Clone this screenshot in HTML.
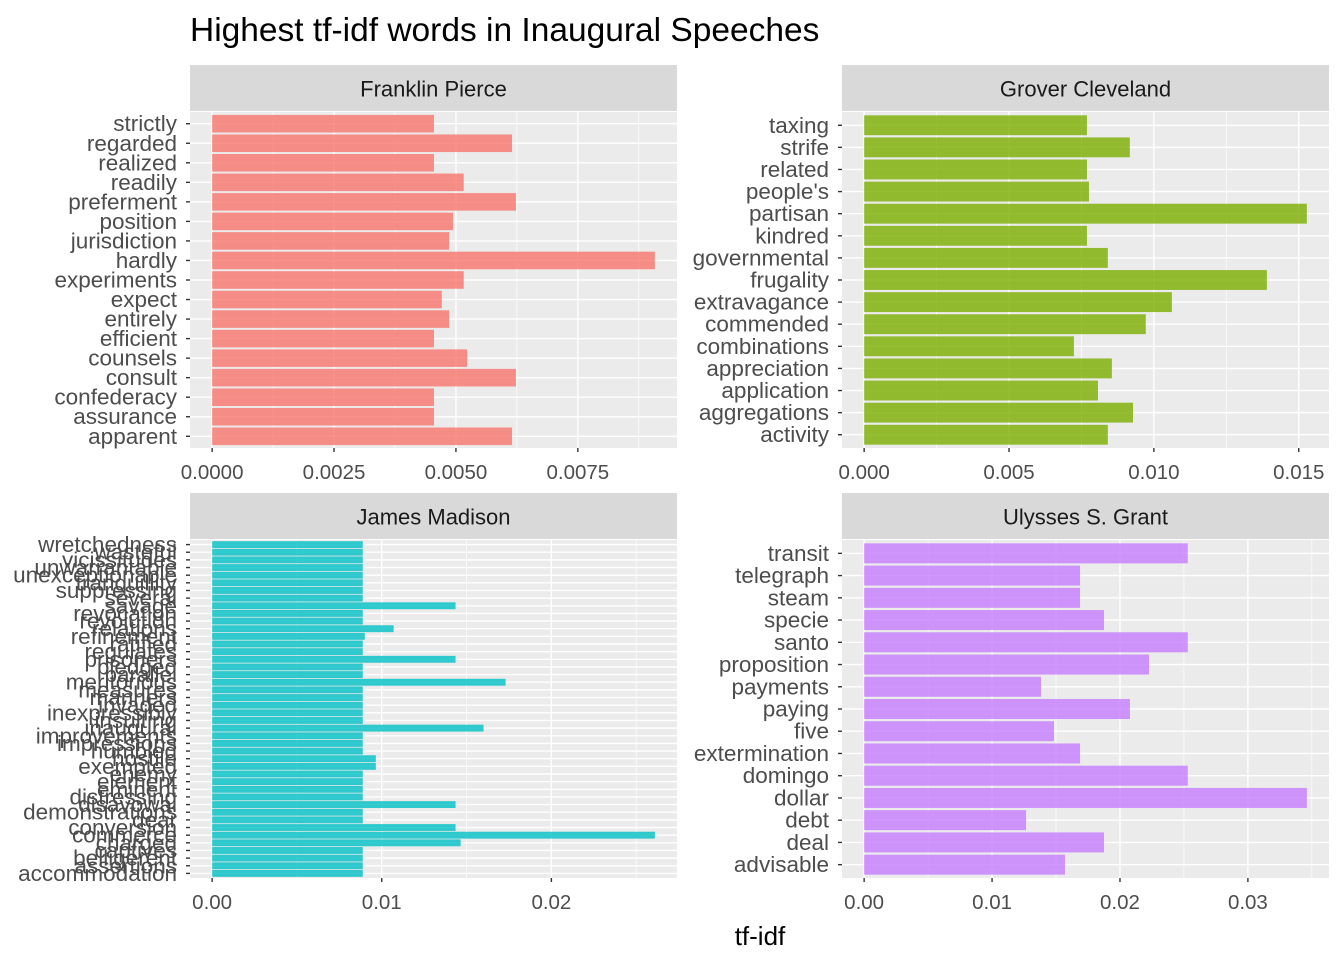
<!DOCTYPE html>
<html><head><meta charset="utf-8"><style>
html,body{margin:0;padding:0;background:#fff;}
svg text{font-family:"Liberation Sans",Arial,sans-serif;}
</style></head><body>
<svg id="chart" width="1344" height="960" viewBox="0 0 1344 960" xmlns="http://www.w3.org/2000/svg">
<rect width="1344" height="960" fill="#fff"/>
<text x="190" y="41" font-size="33.5" fill="#000">Highest tf-idf words in Inaugural Speeches</text>
<text x="760" y="945" font-size="26" fill="#000" text-anchor="middle">tf-idf</text>
<g id="panels"></g>
</svg>
<script>
const pierceWords = ["strictly","regarded","realized","readily","preferment","position","jurisdiction","hardly","experiments","expect","entirely","efficient","counsels","consult","confederacy","assurance","apparent"];
const pierceValues = [0.00455,0.00615,0.00455,0.00516,0.00623,0.00494,0.00486,0.00908,0.00516,0.00471,0.00486,0.00455,0.00523,0.00623,0.00455,0.00455,0.00615];
const pierceTicks = [0,0.0025,0.005,0.0075];
const pierceTickLabels = ["0.0000","0.0025","0.0050","0.0075"];

const clevelandWords = ["taxing","strife","related","people's","partisan","kindred","governmental","frugality","extravagance","commended","combinations","appreciation","application","aggregations","activity"];
const clevelandValues = [0.00769,0.00917,0.00769,0.00776,0.01528,0.00769,0.00841,0.0139,0.01062,0.00972,0.00724,0.00855,0.00807,0.00928,0.00841];
const clevelandTicks = [0,0.005,0.01,0.015];
const clevelandTickLabels = ["0.000","0.005","0.010","0.015"];

const madisonWords = ["wretchedness","wasteful","vicissitudes","unwarrantable","unexceptionable","tranquillity","suppressing","several","savage","revocation","revolution","relations","refinement","ratified","regulates","prisoners","pledged","parallel","meritorious","measures","manners","invaded","inexpressibly","insulting","inaugural","improvements","impressions","humbled","hostile","exempted","enemy","element","eminent","distressing","disavowal","demonstrations","dear","conversion","commerce","charged","captives","belligerent","assertions","accommodation"];
const madisonValues = [0.00888,0.00888,0.00888,0.00888,0.00888,0.00888,0.00888,0.00888,0.01435,0.00888,0.00888,0.0107,0.0090,0.00888,0.00888,0.01435,0.00888,0.00888,0.0173,0.00888,0.00888,0.00888,0.00888,0.00888,0.016,0.00888,0.00888,0.00888,0.00965,0.00965,0.00888,0.00888,0.00888,0.00888,0.01435,0.00888,0.00888,0.01435,0.0261,0.01465,0.00888,0.00888,0.00888,0.00888];
const madisonTicks = [0,0.01,0.02];
const madisonTickLabels = ["0.00","0.01","0.02"];

const grantWords = ["transit","telegraph","steam","specie","santo","proposition","payments","paying","five","extermination","domingo","dollar","debt","deal","advisable"];
const grantValues = [0.0253,0.01688,0.01688,0.01875,0.0253,0.02227,0.01383,0.02078,0.01484,0.01688,0.0253,0.03461,0.01266,0.01875,0.0157];
const grantTicks = [0,0.01,0.02,0.03];
const grantTickLabels = ["0.00","0.01","0.02","0.03"];

const NS="http://www.w3.org/2000/svg";
const root=document.getElementById('panels');
function mk(tag,attrs,parent){const e=document.createElementNS(NS,tag);for(const k in attrs)e.setAttribute(k,attrs[k]);(parent||root).appendChild(e);return e;}

function panel(key,title,words,values,ticks,tickLabels,color,L,T,W,H,stripTop){
  const g=mk('g',{});
  
  
  const strip=mk('rect',{x:L,y:stripTop,width:W,height:T-stripTop-1,fill:'#d9d9d9'},g);
  
  
  const st=mk('text',{x:L+W/2,y:stripTop+(T-stripTop)/2+8,'font-size':22,fill:'#1a1a1a','text-anchor':'middle'},g);
  st.textContent=title;
  
  
  const bg=mk('rect',{x:L,y:T,width:W,height:H,fill:'#ebebeb'},g);
  
  
  const max=Math.max(...values);
  const scale=W/(max*1.1);
  const x0=L+max*0.05*scale;
  const xs=v=>x0+v*scale;
  const n=words.length;
  const step=H/(n-1+1.2);
  const ys=i=>T+step*(0.6+i);
  for(let k=0;k<ticks.length;k++){
    const d=ticks.length>1?ticks[1]-ticks[0]:0;
    const mv=ticks[k]+d/2;
    if(xs(mv)<L+W) mk('line',{x1:xs(mv),x2:xs(mv),y1:T,y2:T+H,stroke:'#fff','stroke-width':0.7},g);
  }
  ticks.forEach((t,k)=>{
    mk('line',{x1:xs(t),x2:xs(t),y1:T,y2:T+H,stroke:'#fff','stroke-width':1.4},g);
    mk('line',{x1:xs(t),x2:xs(t),y1:T+H,y2:T+H+4,stroke:'#333','stroke-width':1.4},g);
    const tl=mk('text',{x:xs(t),y:T+H+31,'font-size':20.5,fill:'#4d4d4d','text-anchor':'middle'},g);
    tl.textContent=tickLabels[k];
    
    
  });
  words.forEach((w,i)=>{
    const y=ys(i);
    mk('line',{x1:L,x2:L+W,y1:y,y2:y,stroke:'#fff','stroke-width':1.4},g);
  });
  words.forEach((w,i)=>{
    const y=ys(i);
    const b=mk('rect',{x:xs(0),y:y-step*0.45,width:xs(values[i])-xs(0),height:step*0.9,fill:color,'fill-opacity':0.8},g);
    
    
    mk('line',{x1:L-4,x2:L,y1:y,y2:y,stroke:'#333','stroke-width':1.4},g);
    const lab=mk('text',{x:L-13,y:y+7.5,'font-size':22.5,fill:'#4d4d4d','text-anchor':'end'},g);
    lab.textContent=w;
    
    
  });
}
panel('franklin-pierce','Franklin Pierce',pierceWords,pierceValues,pierceTicks,pierceTickLabels,'#F8766D',190,112,487,336,65);
panel('grover-cleveland','Grover Cleveland',clevelandWords,clevelandValues,clevelandTicks,clevelandTickLabels,'#7CAE00',842,112,487,336,65);
panel('james-madison','James Madison',madisonWords,madisonValues,madisonTicks,madisonTickLabels,'#00BFC4',190,540,487,338,493);
panel('ulysses-grant','Ulysses S. Grant',grantWords,grantValues,grantTicks,grantTickLabels,'#C77CFF',842,540,487,338,493);
</script>
</body></html>
